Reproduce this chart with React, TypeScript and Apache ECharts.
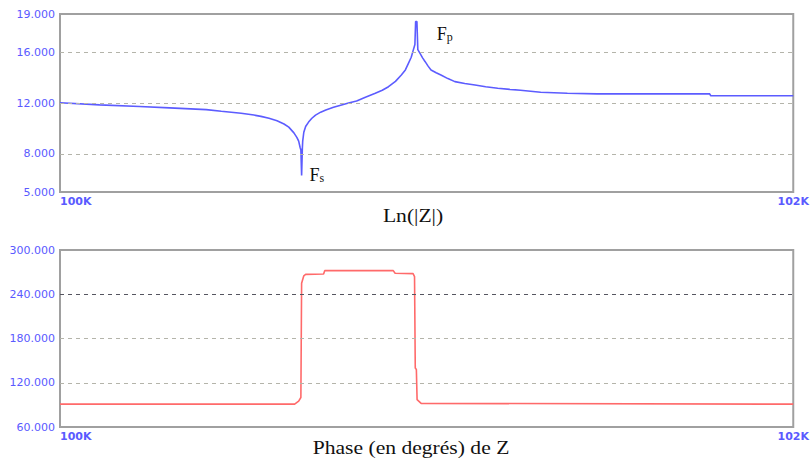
import React, { useEffect, useRef } from "react";
import * as echarts from "echarts";

// ---- data (frequency in kHz) ----
const magFreq = [
  100.0, 100.108, 100.217, 100.299, 100.399, 100.44, 100.494, 100.529, 100.548, 100.57, 100.592, 100.611, 100.624,
  100.638, 100.646, 100.651, 100.655, 100.657, 100.659, 100.661, 100.662, 100.665, 100.67, 100.678, 100.687,
  100.697, 100.711, 100.725, 100.746, 100.768, 100.787, 100.809, 100.833, 100.86, 100.879, 100.896, 100.915,
  100.931, 100.942, 100.95, 100.958, 100.963, 100.968, 100.97, 100.9735, 100.976, 100.982, 100.989, 100.996,
  101.004, 101.012, 101.026, 101.039, 101.058, 101.077, 101.104, 101.132, 101.161, 101.194, 101.227, 101.256,
  101.311, 101.384, 101.465, 101.772, 101.775, 102.0,
];
const magValues = [
  12.02, 11.85, 11.72, 11.62, 11.48, 11.35, 11.2, 11.05, 10.95, 10.8, 10.6, 10.35, 10.1,
  9.65, 9.3, 9.0, 8.5, 8.3, 6.3, 8.4, 9.0, 9.7, 10.15, 10.5, 10.8,
  11.05, 11.28, 11.45, 11.66, 11.85, 12.0, 12.16, 12.45, 12.76, 13.0, 13.28, 13.7,
  14.2, 14.6, 15.1, 15.6, 16.1, 16.6, 18.4, 18.4, 16.2, 15.9, 15.55, 15.25,
  14.9, 14.6, 14.38, 14.2, 13.92, 13.68, 13.53, 13.42, 13.28, 13.16, 13.07, 13.0,
  12.84, 12.77, 12.72, 12.72, 12.57, 12.57,
];

const phaseFreq = [100.0, 100.64, 100.651, 100.657, 100.659, 100.665, 100.67, 100.719, 100.722, 100.909, 100.914, 100.963, 100.967, 100.969, 100.972, 100.974, 100.985, 102.0];
const phaseValues = [91, 91, 95, 100, 255, 265, 267, 267.5, 272, 272, 268.5, 268, 264, 140, 138, 97, 92, 91];

const magTicks = [5, 8, 12, 16, 19];
const magGrid = [8, 12, 16];
const phaseGrid = [120, 180, 240];
const xTicks = [100, 102];

const fsPoint = [100.659, 6.3];
const fpPoint = [100.970, 18.4];

const magTitle = "Ln(|Z|)";
const phaseTitle = "Phase (en degrés) de Z";

const LABEL_COLOR = "#5a5aff";

export default function App() {
  const ref = useRef<HTMLDivElement>(null);
  useEffect(() => {
    if (!ref.current) return;
    const chart = echarts.init(ref.current, null, { renderer: "svg" });
    const yLabel = {
      color: LABEL_COLOR,
      fontFamily: "DejaVu Sans",
      fontSize: 11,
      margin: 5,
      formatter: (v: number) => v.toFixed(3),
    };
    const xAxisCommon = (gi: number) => ({
      type: "value",
      gridIndex: gi,
      min: 100,
      max: 102,
      axisLine: { show: false },
      axisTick: { show: false },
      splitLine: { show: false },
      axisLabel: {
        customValues: xTicks,
        color: LABEL_COLOR,
        fontFamily: "DejaVu Sans",
        fontSize: 11,
        fontWeight: "bold",
        margin: 4,
        alignMinLabel: "left",
        formatter: (v: number) => v + "K",
      },
    });
    const gridLine = (v: number, color: string) => ({
      yAxis: v,
      lineStyle: { color, type: [4, 4], width: 1 },
    });
    const richLabel = {
      f: { fontFamily: "Liberation Serif", fontSize: 18, color: "#111", verticalAlign: "bottom" },
      s: { fontFamily: "Liberation Serif", fontSize: 12, color: "#111", padding: [10, 0, 0, 0], verticalAlign: "bottom" },
    };
    chart.setOption({
      animation: false,
      backgroundColor: "#fff",
      grid: [
        { left: 60, top: 14, width: 737, height: 178, show: true, borderColor: "#a0a0a0", borderWidth: 2, backgroundColor: "transparent" },
        { left: 60, top: 250, width: 737, height: 177, show: true, borderColor: "#a0a0a0", borderWidth: 2, backgroundColor: "transparent" },
      ],
      xAxis: [xAxisCommon(0), xAxisCommon(1)],
      yAxis: [
        {
          type: "value",
          gridIndex: 0,
          min: 5,
          max: 19,
          axisLine: { show: false },
          axisTick: { show: false, customValues: magTicks },
          splitLine: { show: false },
          axisLabel: { ...yLabel, customValues: magTicks },
        },
        {
          type: "value",
          gridIndex: 1,
          min: 60,
          max: 300,
          interval: 60,
          axisLine: { show: false },
          axisTick: { show: false },
          splitLine: { show: false },
          axisLabel: yLabel,
        },
      ],
      series: [
        {
          type: "line",
          xAxisIndex: 0,
          yAxisIndex: 0,
          data: magFreq.map((f, i) => [f, magValues[i]]),
          showSymbol: false,
          lineStyle: { color: "#5c5cff", width: 1.6 },
          markLine: {
            silent: true,
            symbol: ["none", "none"],
            label: { show: false },
            data: magGrid.map((v) => gridLine(v, "#b4b4aa")),
          },
          markPoint: {
            symbol: "circle",
            symbolSize: 0,
            data: [
              {
                coord: fsPoint,
                label: { show: true, position: "right", distance: 0, offset: [8, -2], formatter: "{f|F}{s|s}", rich: richLabel },
              },
              {
                coord: fpPoint,
                label: { show: true, position: "right", distance: 0, offset: [21, 10], formatter: "{f|F}{s|p}", rich: richLabel },
              },
            ],
          },
        },
        {
          type: "line",
          xAxisIndex: 1,
          yAxisIndex: 1,
          data: phaseFreq.map((f, i) => [f, phaseValues[i]]),
          showSymbol: false,
          lineStyle: { color: "#ff6a6a", width: 1.6 },
          markLine: {
            silent: true,
            symbol: ["none", "none"],
            label: { show: false },
            data: phaseGrid.map((v) => gridLine(v, v === 240 ? "#555560" : "#b4b4aa")),
          },
        },
      ],
      graphic: [
        {
          type: "text",
          x: 413,
          y: 216,
          scaleX: 1.2,
          style: { text: magTitle, font: "18px 'Liberation Serif'", fill: "#111", textAlign: "center", textVerticalAlign: "middle" },
        },
        {
          type: "text",
          x: 411,
          y: 448,
          scaleX: 1.2,
          style: { text: phaseTitle, font: "18px 'Liberation Serif'", fill: "#111", textAlign: "center", textVerticalAlign: "middle" },
        },
      ],
    });
    return () => chart.dispose();
  }, []);
  return <div ref={ref} style={{ position: "fixed", left: 0, top: 0, width: 812, height: 465 }} />;
}
